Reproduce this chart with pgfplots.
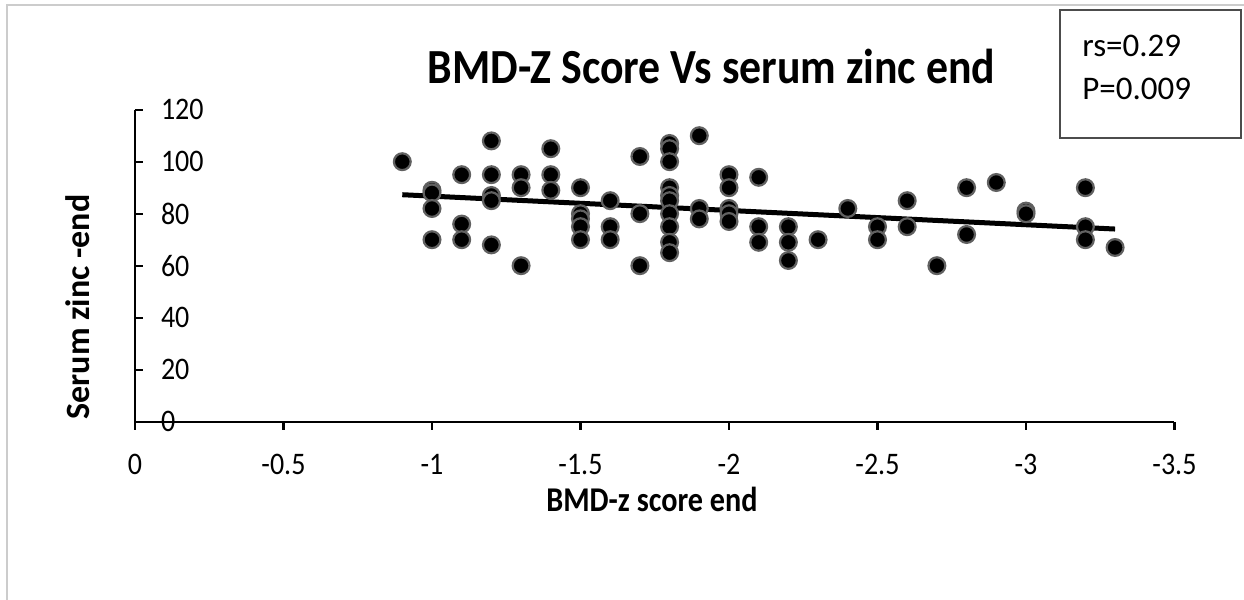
\documentclass[border=0pt]{standalone}
\usepackage{fontspec}
\setmainfont{Carlito}
\usepackage{pgfplots}
\pgfplotsset{compat=1.18}
\begin{document}
\begin{tikzpicture}
\begin{axis}[
  at={(67.5bp,89.15bp)}, anchor=south west,
  scale only axis, width=519.75bp, height=156bp,
  x dir=reverse, xmin=-3.5, xmax=0, ymin=0, ymax=120,
  axis x line*=bottom, axis y line*=left,
  axis line style={black, line width=1.1bp},
  xtick={0,-0.5,-1,-1.5,-2,-2.5,-3,-3.5},
  xticklabels={0,-0.5,-1,-1.5,-2,-2.5,-3,-3.5},
  ytick={0,20,40,60,80,100,120},
  yticklabels={0,20,40,60,80,100,120},
  tick align=outside, major tick length=4bp,
  tick style={black, line width=1.1bp},
  ytick style={xshift=4bp},
  ticklabel style={font=\fontsize{14bp}{15bp}\selectfont, yscale=1.12},
  xticklabel style={anchor=base, yshift=-20bp},
  yticklabel style={anchor=west, xshift=13.5bp},
  clip=false,
]
\addplot[only marks, mark=*, mark size=4.2bp,
  mark options={fill=black, draw=black!62, line width=1.1bp}] table {
x y
-0.9 100
-1.0 89
-1.0 88
-1.0 82
-1.0 70
-1.1 95
-1.1 76
-1.1 70
-1.2 108
-1.2 95
-1.2 87
-1.2 85
-1.2 68
-1.3 95
-1.3 90
-1.3 60
-1.4 105
-1.4 95
-1.4 89
-1.5 90
-1.5 80
-1.5 78
-1.5 75
-1.5 70
-1.6 85
-1.6 75
-1.6 70
-1.7 102
-1.7 80
-1.7 60
-1.8 107
-1.8 105
-1.8 100
-1.8 90
-1.8 87
-1.8 85
-1.8 80
-1.8 75
-1.8 69
-1.8 65
-1.9 110
-1.9 82
-1.9 78
-2.0 95
-2.0 90
-2.0 82
-2.0 80
-2.0 77
-2.1 94
-2.1 75
-2.1 69
-2.2 75
-2.2 69
-2.2 62
-2.3 70
-2.4 82
-2.5 75
-2.5 70
-2.6 85
-2.6 75
-2.7 60
-2.8 90
-2.8 72
-2.9 92
-3.0 81
-3.0 80
-3.2 90
-3.2 75
-3.2 70
-3.3 67
};
\addplot[black, line width=2.5bp, no marks] coordinates {(-0.9,87.3) (-3.3,74.1)};
\end{axis}
\begin{scope}[x=0.5bp, y=-0.5bp, shift={(0,300bp)}]
\draw[black!20, line width=1bp] (7,600) -- (7,5) -- (1244,5);
\draw[black!70, line width=0.7bp] (1060,10) rectangle (1241,138);
\node[anchor=base west, inner sep=0, font=\fontsize{16.5bp}{18bp}\selectfont] at (1082,57) {rs=0.29};
\node[anchor=base west, inner sep=0, font=\fontsize{16.5bp}{18bp}\selectfont] at (1082,100) {P=0.009};
\node[anchor=base, inner sep=0, yscale=1.12, font=\bfseries\fontsize{21.9bp}{26bp}\selectfont] at (711.5,84) {BMD-Z Score Vs serum zinc end};
\node[anchor=base, inner sep=0, yscale=1.15, font=\bfseries\fontsize{15.1bp}{18bp}\selectfont] at (652,512) {BMD-z score end};
\node[anchor=base, rotate=90, inner sep=0, font=\bfseries\fontsize{17bp}{20bp}\selectfont] at (90,307) {Serum zinc -end};
\end{scope}
\pgfresetboundingbox
\useasboundingbox (0,0) rectangle (622bp,300bp);
\end{tikzpicture}
\end{document}
